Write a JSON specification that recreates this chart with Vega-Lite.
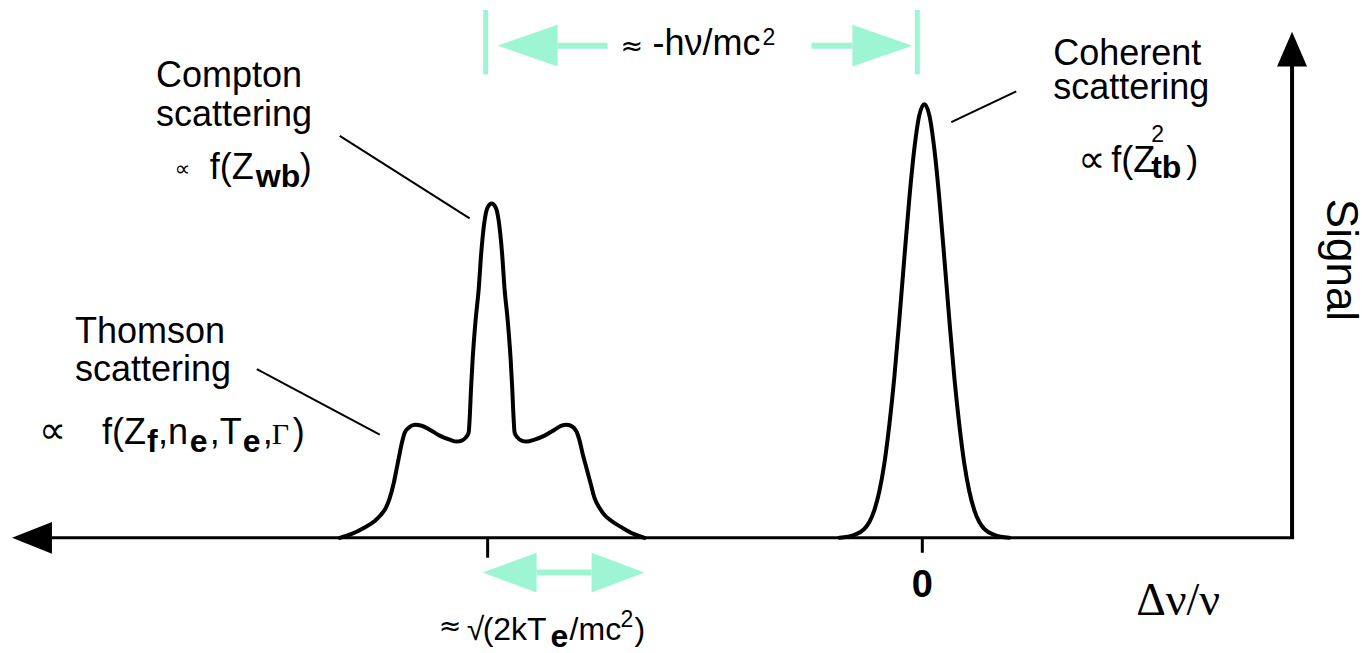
{
  "$schema": "https://vega.github.io/schema/vega-lite/v6.json",
  "width": 1362,
  "height": 653,
  "autosize": {"type": "fit", "contains": "padding"},
  "padding": 0,
  "background": "white",
  "config": {"view": {"stroke": null}},
  "datasets": {
    "curves": [
      {"s":"compton","x":-5.85,"y":0},{"s":"compton","x":-5.73,"y":0.04},{"s":"compton","x":-5.61,"y":0.10},{"s":"compton","x":-5.50,"y":0.17},{"s":"compton","x":-5.44,"y":0.23},{"s":"compton","x":-5.39,"y":0.30},{"s":"compton","x":-5.35,"y":0.40},{"s":"compton","x":-5.31,"y":0.55},{"s":"compton","x":-5.28,"y":0.70},{"s":"compton","x":-5.26,"y":0.80},{"s":"compton","x":-5.23,"y":0.95},{"s":"compton","x":-5.20,"y":1.06},{"s":"compton","x":-5.16,"y":1.11},{"s":"compton","x":-5.10,"y":1.14},{"s":"compton","x":-5.03,"y":1.13},{"s":"compton","x":-4.95,"y":1.09},{"s":"compton","x":-4.85,"y":1.03},{"s":"compton","x":-4.75,"y":0.99},{"s":"compton","x":-4.68,"y":0.97},{"s":"compton","x":-4.63,"y":0.98},{"s":"compton","x":-4.59,"y":1.01},{"s":"compton","x":-4.56,"y":1.06},{"s":"compton","x":-4.55,"y":1.20},{"s":"compton","x":-4.535,"y":1.53},{"s":"compton","x":-4.52,"y":1.80},{"s":"compton","x":-4.49,"y":2.20},{"s":"compton","x":-4.46,"y":2.50},{"s":"compton","x":-4.435,"y":2.86},{"s":"compton","x":-4.40,"y":3.20},{"s":"compton","x":-4.37,"y":3.33},{"s":"compton","x":-4.33,"y":3.37},{"s":"compton","x":-4.29,"y":3.33},{"s":"compton","x":-4.26,"y":3.20},{"s":"compton","x":-4.225,"y":2.86},{"s":"compton","x":-4.20,"y":2.50},{"s":"compton","x":-4.17,"y":2.20},{"s":"compton","x":-4.14,"y":1.80},{"s":"compton","x":-4.125,"y":1.53},{"s":"compton","x":-4.11,"y":1.20},{"s":"compton","x":-4.10,"y":1.06},{"s":"compton","x":-4.07,"y":1.01},{"s":"compton","x":-4.03,"y":0.98},{"s":"compton","x":-3.98,"y":0.97},{"s":"compton","x":-3.90,"y":0.99},{"s":"compton","x":-3.80,"y":1.03},{"s":"compton","x":-3.70,"y":1.09},{"s":"compton","x":-3.63,"y":1.13},{"s":"compton","x":-3.58,"y":1.14},{"s":"compton","x":-3.52,"y":1.12},{"s":"compton","x":-3.48,"y":1.07},{"s":"compton","x":-3.45,"y":0.98},{"s":"compton","x":-3.42,"y":0.85},{"s":"compton","x":-3.38,"y":0.70},{"s":"compton","x":-3.34,"y":0.55},{"s":"compton","x":-3.30,"y":0.40},{"s":"compton","x":-3.25,"y":0.30},{"s":"compton","x":-3.20,"y":0.23},{"s":"compton","x":-3.13,"y":0.17},{"s":"compton","x":-3.02,"y":0.10},{"s":"compton","x":-2.91,"y":0.04},{"s":"compton","x":-2.80,"y":0},
      {"s":"coherent","x":-0.85,"y":0},{"s":"coherent","x":-0.70,"y":0.03},{"s":"coherent","x":-0.60,"y":0.09},{"s":"coherent","x":-0.55,"y":0.16},{"s":"coherent","x":-0.50,"y":0.28},{"s":"coherent","x":-0.45,"y":0.47},{"s":"coherent","x":-0.40,"y":0.75},{"s":"coherent","x":-0.35,"y":1.14},{"s":"coherent","x":-0.30,"y":1.62},{"s":"coherent","x":-0.25,"y":2.20},{"s":"coherent","x":-0.20,"y":2.82},{"s":"coherent","x":-0.15,"y":3.42},{"s":"coherent","x":-0.10,"y":3.92},{"s":"coherent","x":-0.05,"y":4.26},{"s":"coherent","x":0,"y":4.37},{"s":"coherent","x":0.05,"y":4.26},{"s":"coherent","x":0.10,"y":3.92},{"s":"coherent","x":0.15,"y":3.42},{"s":"coherent","x":0.20,"y":2.82},{"s":"coherent","x":0.25,"y":2.20},{"s":"coherent","x":0.30,"y":1.62},{"s":"coherent","x":0.35,"y":1.14},{"s":"coherent","x":0.40,"y":0.75},{"s":"coherent","x":0.45,"y":0.47},{"s":"coherent","x":0.50,"y":0.28},{"s":"coherent","x":0.55,"y":0.16},{"s":"coherent","x":0.60,"y":0.09},{"s":"coherent","x":0.70,"y":0.03},{"s":"coherent","x":0.85,"y":0}
    ],
    "hAxis": [{"x":-8.75,"x2":3.70,"y":0,"y2":0}],
    "vAxis": [{"x":3.68,"x2":3.68,"y":0,"y2":4.76}],
    "ticks": [{"x":-4.37,"x2":-4.37,"y":0,"y2":-0.20},{"x":-0.02,"x2":-0.02,"y":0,"y2":-0.15}],
    "pointers": [
      {"x":-5.85,"y":4.05,"x2":-4.55,"y2":3.22},
      {"x":-6.68,"y":1.70,"x2":-5.45,"y2":1.04},
      {"x":0.92,"y":4.50,"x2":0.27,"y2":4.19}
    ],
    "leftHead": [{"g":"L","x":-9.13,"y":0,"y2":0},{"g":"L","x":-8.73,"y":-0.16,"y2":0.16}],
    "upHead": [{"g":"U","y":4.75,"x":3.53,"x2":3.83},{"g":"U","y":5.10,"x":3.68,"x2":3.68}],
    "tealBars": [{"x":-4.39,"x2":-4.39,"y":5.32,"y2":4.67},{"x":-0.07,"x2":-0.07,"y":5.32,"y2":4.67}],
    "tealShafts": [{"x":-3.67,"x2":-3.17,"y":4.96,"y2":4.96},{"x":-1.13,"x2":-0.72,"y":4.96,"y2":4.96},{"x":-3.88,"x2":-3.33,"y":-0.35,"y2":-0.35}],
    "tealHeads": [
      {"g":"tl","x":-4.27,"y":4.96,"y2":4.96},{"g":"tl","x":-3.67,"y":4.75,"y2":5.17},
      {"g":"tr","x":-0.72,"y":4.75,"y2":5.17},{"g":"tr","x":-0.12,"y":4.96,"y2":4.96},
      {"g":"bl","x":-4.42,"y":-0.35,"y2":-0.35},{"g":"bl","x":-3.88,"y":-0.55,"y2":-0.15},
      {"g":"br","x":-3.33,"y":-0.55,"y2":-0.15},{"g":"br","x":-2.80,"y":-0.35,"y2":-0.35}
    ],
    "main": [
      {"t":"Compton","x":-7.69,"y":4.54},
      {"t":"scattering","x":-7.69,"y":4.15},
      {"t":"f(Z","x":-7.15,"y":3.62},
      {"t":")","x":-6.25,"y":3.62},
      {"t":"Thomson","x":-8.50,"y":1.96},
      {"t":"scattering","x":-8.50,"y":1.58},
      {"t":"f(Z","x":-8.23,"y":0.95},
      {"t":",","x":-7.67,"y":0.95},
      {"t":"n","x":-7.57,"y":0.95},
      {"t":",","x":-7.15,"y":0.95},
      {"t":"T","x":-7.05,"y":0.95},
      {"t":",","x":-6.62,"y":0.95},
      {"t":")","x":-6.32,"y":0.95},
      {"t":"Coherent","x":1.29,"y":4.77},
      {"t":"scattering","x":1.29,"y":4.42},
      {"t":"f(Z","x":1.87,"y":3.69},
      {"t":")","x":2.62,"y":3.69},
      {"t":"-hν/mc","x":-2.72,"y":4.87}
    ],
    "bottom": [
      {"t":"√","x":-4.58,"y":-1.03},
      {"t":"(2kT","x":-4.42,"y":-1.03},
      {"t":"/mc","x":-3.55,"y":-1.03},
      {"t":")","x":-2.90,"y":-1.03}
    ],
    "subs": [
      {"t":"wb","x":-6.69,"y":3.54},
      {"t":"f","x":-7.78,"y":0.87},
      {"t":"e","x":-7.35,"y":0.87},
      {"t":"e","x":-6.82,"y":0.87},
      {"t":"tb","x":2.27,"y":3.63},
      {"t":"e","x":-3.74,"y":-1.10}
    ],
    "sups": [
      {"t":"2","x":-1.62,"y":4.97},
      {"t":"2","x":2.27,"y":3.99},
      {"t":"2","x":-3.04,"y":-0.90}
    ],
    "symSmall": [{"t":"∝","x":-7.50,"y":3.72}],
    "sym": [
      {"t":"∝","x":-8.86,"y":1.07},
      {"t":"∝","x":1.54,"y":3.80}
    ],
    "approx": [
      {"t":"≈","x":-3.04,"y":4.945},
      {"t":"≈","x":-4.86,"y":-0.90}
    ],
    "gamma": [{"t":"Γ","x":-6.53,"y":0.95}],
    "xTitle": [{"t":"Δν/ν","x":2.12,"y":-0.78}],
    "zero": [{"t":"0","x":-0.02,"y":-0.60}],
    "yTitle": [{"t":"Signal","x":4.03,"y":2.80}]
  },
  "encoding": {
    "x": {"field":"x","type":"quantitative","scale":{"domain":[-9.25,4.37],"nice":false,"zero":false},"axis":null},
    "y": {"field":"y","type":"quantitative","scale":{"domain":[-1.11,5.42],"nice":false,"zero":false},"axis":null}
  },
  "layer": [
    {"data":{"name":"tealBars"},"mark":{"type":"rule","color":"#9ef5d3","strokeWidth":5},"encoding":{"x2":{"field":"x2"},"y2":{"field":"y2"}}},
    {"data":{"name":"tealShafts"},"mark":{"type":"rule","color":"#9ef5d3","strokeWidth":6},"encoding":{"x2":{"field":"x2"},"y2":{"field":"y2"}}},
    {"data":{"name":"tealHeads"},"mark":{"type":"area","color":"#9ef5d3","opacity":1},"encoding":{"y2":{"field":"y2"},"detail":{"field":"g"}}},
    {"data":{"name":"hAxis"},"mark":{"type":"rule","color":"black","strokeWidth":3},"encoding":{"x2":{"field":"x2"},"y2":{"field":"y2"}}},
    {"data":{"name":"vAxis"},"mark":{"type":"rule","color":"black","strokeWidth":4},"encoding":{"x2":{"field":"x2"},"y2":{"field":"y2"}}},
    {"data":{"name":"ticks"},"mark":{"type":"rule","color":"black","strokeWidth":3},"encoding":{"x2":{"field":"x2"},"y2":{"field":"y2"}}},
    {"data":{"name":"pointers"},"mark":{"type":"rule","color":"black","strokeWidth":2},"encoding":{"x2":{"field":"x2"},"y2":{"field":"y2"}}},
    {"data":{"name":"leftHead"},"mark":{"type":"area","color":"black","opacity":1},"encoding":{"y2":{"field":"y2"},"detail":{"field":"g"}}},
    {"data":{"name":"upHead"},"mark":{"type":"area","color":"black","opacity":1,"orient":"horizontal"},"encoding":{"x2":{"field":"x2"},"detail":{"field":"g"}}},
    {"data":{"name":"curves"},"mark":{"type":"line","color":"black","strokeWidth":4,"interpolate":"monotone","strokeJoin":"round","strokeCap":"round"},"encoding":{"detail":{"field":"s"}}},
    {"data":{"name":"main"},"mark":{"type":"text","font":"Liberation Sans","fontSize":36,"align":"left","baseline":"alphabetic","color":"black"},"encoding":{"text":{"field":"t"}}},
    {"data":{"name":"bottom"},"mark":{"type":"text","font":"Liberation Sans","fontSize":32,"align":"left","baseline":"alphabetic","color":"black"},"encoding":{"text":{"field":"t"}}},
    {"data":{"name":"subs"},"mark":{"type":"text","font":"Liberation Sans","fontSize":32,"fontWeight":"bold","align":"left","baseline":"alphabetic","color":"black"},"encoding":{"text":{"field":"t"}}},
    {"data":{"name":"sups"},"mark":{"type":"text","font":"Liberation Sans","fontSize":23,"align":"left","baseline":"alphabetic","color":"black"},"encoding":{"text":{"field":"t"}}},
    {"data":{"name":"symSmall"},"mark":{"type":"text","font":"DejaVu Sans","fontSize":22,"align":"left","baseline":"middle","color":"black"},"encoding":{"text":{"field":"t"}}},
    {"data":{"name":"sym"},"mark":{"type":"text","font":"DejaVu Sans","fontSize":38,"align":"left","baseline":"middle","color":"black"},"encoding":{"text":{"field":"t"}}},
    {"data":{"name":"approx"},"mark":{"type":"text","font":"DejaVu Sans","fontSize":27,"align":"left","baseline":"middle","color":"black"},"encoding":{"text":{"field":"t"}}},
    {"data":{"name":"gamma"},"mark":{"type":"text","font":"Liberation Serif","fontSize":30,"align":"left","baseline":"alphabetic","color":"black"},"encoding":{"text":{"field":"t"}}},
    {"data":{"name":"xTitle"},"mark":{"type":"text","font":"Liberation Serif","fontSize":46,"align":"left","baseline":"alphabetic","color":"black"},"encoding":{"text":{"field":"t"}}},
    {"data":{"name":"zero"},"mark":{"type":"text","font":"Liberation Sans","fontSize":38,"fontWeight":"bold","align":"center","baseline":"alphabetic","color":"black"},"encoding":{"text":{"field":"t"}}},
    {"data":{"name":"yTitle"},"mark":{"type":"text","font":"Liberation Sans","fontSize":44,"angle":90,"align":"center","baseline":"alphabetic","color":"black"},"encoding":{"text":{"field":"t"}}}
  ]
}
